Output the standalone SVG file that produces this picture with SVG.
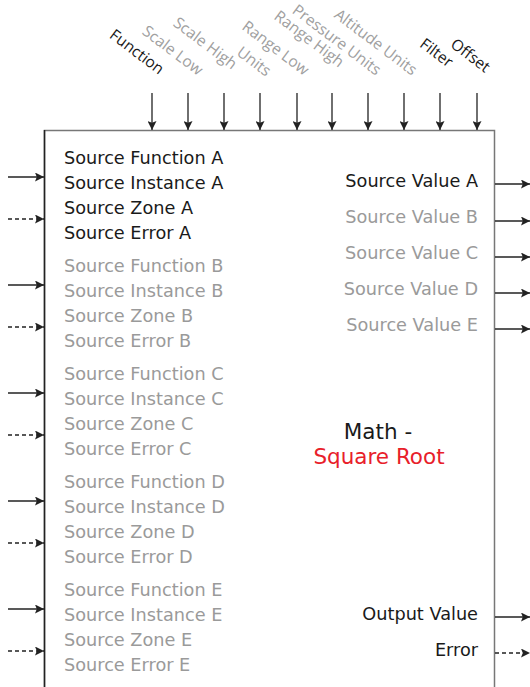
<svg xmlns="http://www.w3.org/2000/svg" width="530" height="687" viewBox="0 0 530 687">
<defs>
<marker id="ah" viewBox="0 0 10 10" refX="10" refY="5" markerWidth="9" markerHeight="9" markerUnits="userSpaceOnUse" orient="auto"><path d="M0,0 L10,5 L0,10 L2,5 Z" fill="#222"/></marker>
</defs>
<style>
.t{font-family:"DejaVu Sans",sans-serif;font-size:17.7px;fill:#1a1a1a}
.g{fill:#9a9a9a}
.top{font-family:"Open Sans",sans-serif;font-size:15.6px;fill:#1a1a1a;text-anchor:end}
.tg{fill:#a0a0a0}
.r{text-anchor:end}
.a{stroke:#222;stroke-width:1.3;fill:none;marker-end:url(#ah)}
.d{stroke-dasharray:4,3}
.title{font-family:"DejaVu Sans",sans-serif;font-size:21.5px;text-anchor:middle}
</style>
<rect width="530" height="687" fill="#fff"/>
<g id="block">
<rect x="44.5" y="130.5" width="450" height="600" fill="#fff" stroke="#777" stroke-width="1.5"/>
<line x1="44.5" y1="130" x2="44.5" y2="687" stroke="#222" stroke-width="1.5"/>
<text class="title" x="378" y="439" fill="#1a1a1a">Math -</text>
<text class="title" x="379" y="464" fill="#e8202a">Square Root</text>
</g>
<g id="top-inputs">
<text class="top" transform="translate(159,75) rotate(37)">Function</text>
<text class="top tg" transform="translate(198,76) rotate(37)">Scale Low</text>
<text class="top tg" transform="translate(232,70) rotate(37)">Scale High</text>
<text class="top tg" transform="translate(266,77) rotate(37)">Units</text>
<text class="top tg" transform="translate(304,76) rotate(37)">Range Low</text>
<text class="top tg" transform="translate(339,68) rotate(37)">Range High</text>
<text class="top tg" transform="translate(376,76) rotate(37)">Pressure Units</text>
<text class="top tg" transform="translate(412,76) rotate(37)">Altitude Units</text>
<text class="top" transform="translate(448,68) rotate(37)">Filter</text>
<text class="top" transform="translate(485,73) rotate(37)">Offset</text>
</g>
<g id="inputs-A">
<text class="t" x="64" y="164">Source Function A</text>
<text class="t" x="64" y="189">Source Instance A</text>
<text class="t" x="64" y="214">Source Zone A</text>
<text class="t" x="64" y="239">Source Error A</text>
</g>
<g id="inputs-B">
<text class="t g" x="64" y="272">Source Function B</text>
<text class="t g" x="64" y="297">Source Instance B</text>
<text class="t g" x="64" y="322">Source Zone B</text>
<text class="t g" x="64" y="347">Source Error B</text>
</g>
<g id="inputs-C">
<text class="t g" x="64" y="380">Source Function C</text>
<text class="t g" x="64" y="405">Source Instance C</text>
<text class="t g" x="64" y="430">Source Zone C</text>
<text class="t g" x="64" y="455">Source Error C</text>
</g>
<g id="inputs-D">
<text class="t g" x="64" y="488">Source Function D</text>
<text class="t g" x="64" y="513">Source Instance D</text>
<text class="t g" x="64" y="538">Source Zone D</text>
<text class="t g" x="64" y="563">Source Error D</text>
</g>
<g id="inputs-E">
<text class="t g" x="64" y="596">Source Function E</text>
<text class="t g" x="64" y="621">Source Instance E</text>
<text class="t g" x="64" y="646">Source Zone E</text>
<text class="t g" x="64" y="671">Source Error E</text>
</g>
<g id="outputs">
<text class="t r" x="478" y="187">Source Value A</text>
<text class="t g r" x="478" y="223">Source Value B</text>
<text class="t g r" x="478" y="259">Source Value C</text>
<text class="t g r" x="478" y="295">Source Value D</text>
<text class="t g r" x="478" y="331">Source Value E</text>
<text class="t r" x="478" y="620">Output Value</text>
<text class="t r" x="478" y="656">Error</text>
</g>
<g id="connectors">
<line class="a" x1="152" y1="93" x2="152" y2="130"/>
<line class="a" x1="188" y1="93" x2="188" y2="130"/>
<line class="a" x1="224" y1="93" x2="224" y2="130"/>
<line class="a" x1="260" y1="93" x2="260" y2="130"/>
<line class="a" x1="297" y1="93" x2="297" y2="130"/>
<line class="a" x1="332" y1="93" x2="332" y2="130"/>
<line class="a" x1="368" y1="93" x2="368" y2="130"/>
<line class="a" x1="404" y1="93" x2="404" y2="130"/>
<line class="a" x1="440" y1="93" x2="440" y2="130"/>
<line class="a" x1="477" y1="93" x2="477" y2="130"/>
<line class="a" x1="8" y1="177" x2="44" y2="177"/>
<line class="a d" x1="8" y1="219" x2="44" y2="219"/>
<line class="a" x1="8" y1="285" x2="44" y2="285"/>
<line class="a d" x1="8" y1="327" x2="44" y2="327"/>
<line class="a" x1="8" y1="393" x2="44" y2="393"/>
<line class="a d" x1="8" y1="435" x2="44" y2="435"/>
<line class="a" x1="8" y1="501" x2="44" y2="501"/>
<line class="a d" x1="8" y1="543" x2="44" y2="543"/>
<line class="a" x1="8" y1="609" x2="44" y2="609"/>
<line class="a d" x1="8" y1="651" x2="44" y2="651"/>
<line class="a" x1="495" y1="184" x2="530" y2="184"/>
<line class="a" x1="495" y1="221" x2="530" y2="221"/>
<line class="a" x1="495" y1="257" x2="530" y2="257"/>
<line class="a" x1="495" y1="293" x2="530" y2="293"/>
<line class="a" x1="495" y1="329" x2="530" y2="329"/>
<line class="a" x1="495" y1="617" x2="530" y2="617"/>
<line class="a d" x1="495" y1="653" x2="530" y2="653"/>
</g>
</svg>
